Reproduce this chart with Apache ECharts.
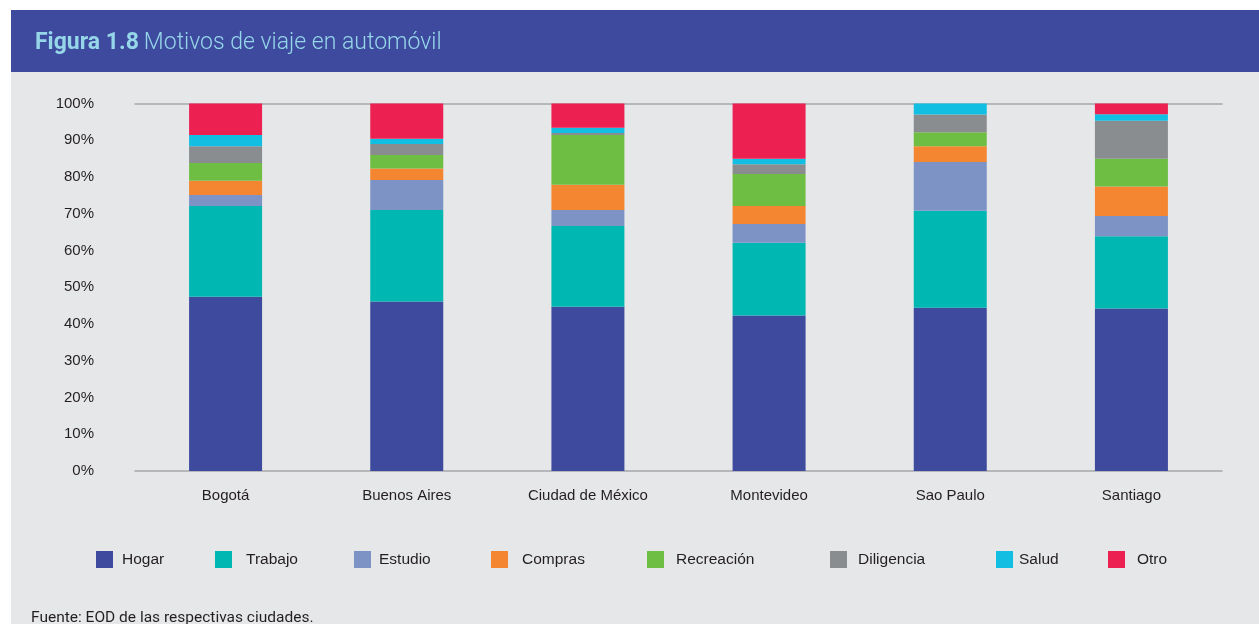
<!DOCTYPE html>
<html lang="es">
<head>
<meta charset="utf-8">
<title>Motivos de viaje en automóvil</title>
<script src="https://cdn.jsdelivr.net/npm/echarts@6/dist/echarts.min.js"></script>
<style>
  html, body { margin: 0; padding: 0; background: #ffffff; }
  #chart { width: 1259px; height: 624px; }
</style>
</head>
<body>
<div id="chart"></div>
<script>
// Ciudades y motivos de viaje (porcentaje de viajes en automóvil)
const ciudades = ['Bogotá', 'Buenos Aires', 'Ciudad de México', 'Montevideo', 'Sao Paulo', 'Santiago'];
const motivos = ['Hogar', 'Trabajo', 'Estudio', 'Compras', 'Recreación', 'Diligencia', 'Salud', 'Otro'];

const hogar      = [47.4, 46.1, 44.7, 42.3, 44.4, 44.2];
const trabajo    = [24.7, 24.9, 22.0, 19.8, 26.4, 19.7];
const estudio    = [3.0, 8.2, 4.3, 5.1, 13.3, 5.5];
const compras    = [3.9, 3.1, 6.9, 4.9, 4.3, 8.0];
const recreacion = [4.8, 3.7, 13.5, 8.7, 3.8, 7.6];
const diligencia = [4.6, 3.0, 0.6, 2.7, 4.8, 10.3];
const salud      = [3.0, 1.4, 1.4, 1.5, 3.0, 1.8];
const otro       = [8.6, 9.6, 6.6, 15.0, 0.0, 2.9];

const yTicks = [0, 10, 20, 30, 40, 50, 60, 70, 80, 90, 100];

const valores = [hogar, trabajo, estudio, compras, recreacion, diligencia, salud, otro];
const colores = ['#3d4a9e', '#00b7b2', '#7d93c6', '#f48631', '#6fbe44', '#8a8d8f', '#12bfe3', '#ec2151'];

// Posición horizontal de cada entrada de la leyenda y separación icono-texto
const leyendaX = [96, 215, 354, 491, 647, 830, 996, 1108];
const leyendaPad = [4, 9, 3, 9, 7, 6, 1, 7];

const textoColor = '#231f20';
const fuente = "'Liberation Sans', Arial, sans-serif";

const chart = echarts.init(document.getElementById('chart'), null, { renderer: 'canvas' });

const series = motivos.map((m, i) => ({
  name: m,
  type: 'bar',
  stack: 'total',
  barWidth: 73,
  xAxisIndex: 0,
  data: valores[i],
  itemStyle: { color: colores[i] },
  emphasis: { disabled: true }
}));

const legend = motivos.map((m, i) => ({
  data: [m],
  left: leyendaX[i],
  top: 551,
  padding: 0,
  itemWidth: 17,
  itemHeight: 17,
  icon: 'rect',
  selectedMode: false,
  textStyle: {
    color: textoColor,
    fontSize: 15.5,
    fontFamily: fuente,
    padding: [0, 0, 0, leyendaPad[i]]
  }
}));

chart.setOption({
  animation: false,
  backgroundColor: '#ffffff',
  graphic: [
    { type: 'rect', z: -10, shape: { x: 11, y: 72, width: 1248, height: 552 }, style: { fill: '#e6e7e9' } },
    { type: 'rect', z: -10, shape: { x: 11, y: 10, width: 1248, height: 62 }, style: { fill: '#3d4a9e' } },
    {
      type: 'text', left: 31, top: 610,
      style: {
        text: 'Fuente: EOD de las respectivas ciudades.',
        fill: textoColor, font: "15.5px Roboto, 'Noto Sans', sans-serif"
      }
    }
  ],
  title: {
    left: 35,
    top: 32,
    padding: 0,
    text: '{b|Figura 1.8} {r|Motivos de viaje en automóvil}',
    textStyle: {
      rich: {
        b: { fontFamily: 'Roboto, sans-serif', fontWeight: 'bold', fontSize: 23, color: '#96d6e9' },
        r: { fontFamily: 'Roboto, sans-serif', fontWeight: 300, fontSize: 23, color: '#96d6e9' }
      }
    }
  },
  legend: legend,
  tooltip: { show: false },
  grid: { left: 135, right: 37, top: 103.5, bottom: 153, containLabel: false },
  xAxis: [
    {
      type: 'category',
      data: ciudades,
      position: 'bottom',
      axisLine: { show: true, lineStyle: { color: '#a6a8ab', width: 1.5 } },
      axisTick: { show: false },
      axisLabel: { color: textoColor, fontSize: 15, fontFamily: fuente, margin: 17 }
    },
    {
      type: 'category',
      data: ciudades,
      position: 'top',
      axisLine: { show: true, lineStyle: { color: '#a6a8ab', width: 1.5 } },
      axisTick: { show: false },
      axisLabel: { show: false }
    }
  ],
  yAxis: {
    type: 'value',
    min: yTicks[0],
    max: yTicks[yTicks.length - 1],
    interval: 10,
    axisLine: { show: false },
    axisTick: { show: false },
    splitLine: { show: false },
    axisLabel: {
      color: textoColor, fontSize: 15, fontFamily: fuente, margin: 41,
      formatter: v => v + '%'
    }
  },
  series: series
});
</script>
</body>
</html>
